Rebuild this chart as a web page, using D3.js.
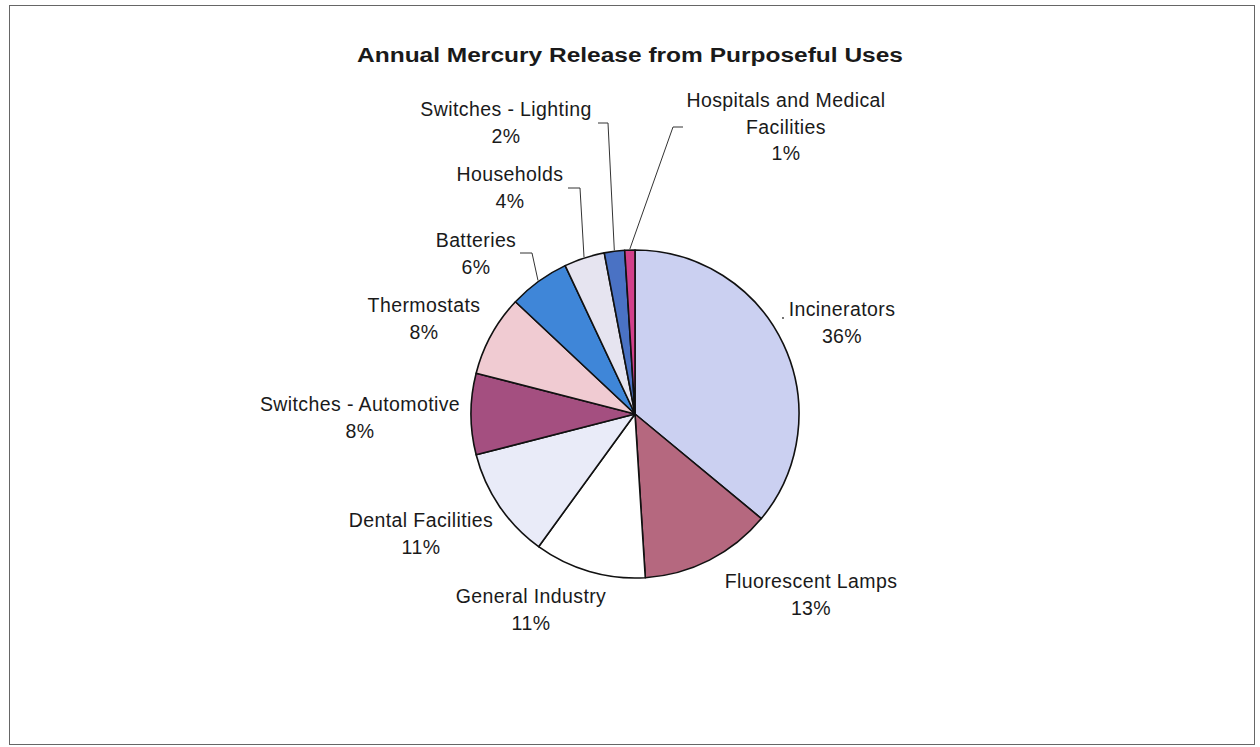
<!DOCTYPE html>
<html>
<head>
<meta charset="utf-8">
<script src="https://cdn.jsdelivr.net/npm/d3@7"></script>
<style>
  html, body { margin: 0; padding: 0; background: #fff; }
  svg { display: block; }
  text { font-family: "Liberation Sans", Arial, sans-serif; fill: #1a1a1a; }
</style>
</head>
<body>
<svg id="chart" width="1260" height="747"></svg>
<script>
// ---- data ----
const categories = ["Incinerators", "Fluorescent Lamps", "General Industry", "Dental Facilities",
  "Switches - Automotive", "Thermostats", "Batteries", "Households", "Switches - Lighting",
  "Hospitals and Medical Facilities"];
const values = [36, 13, 11, 11, 8, 8, 6, 4, 2, 1];
const labelLines = [["Incinerators"], ["Fluorescent Lamps"], ["General Industry"], ["Dental Facilities"],
  ["Switches - Automotive"], ["Thermostats"], ["Batteries"], ["Households"], ["Switches - Lighting"],
  ["Hospitals and Medical", "Facilities"]];
const colors = ["#cbd0f1", "#b5687f", "#ffffff", "#e9ebf8", "#a44f80", "#f0cbd2", "#3f86d8",
  "#e6e4f0", "#4a72c4", "#d2408a"];
const title = "Annual Mercury Release from Purposeful Uses";

// ---- layout (label anchor positions: centre x, first baseline y) ----
const labelPos = [[842, 316], [811, 588], [531, 603], [421, 527], [360, 411], [424, 312],
  [476, 247], [510, 181], [506, 116], [786, 107]];
// leader elbows for small slices; null = none
const leaders = [null, null, null, null, null, null,
  [[520, 253], [532, 253]], [[568, 188], [580, 188]], [[598, 123], [608, 123]], [[683, 127], [673, 127]]];

const svg = d3.select("#chart");

// frame
svg.append("rect").attr("x", 9.5).attr("y", 5.5).attr("width", 1245).attr("height", 739)
  .attr("fill", "none").attr("stroke", "#666").attr("stroke-width", 1);

svg.append("text").attr("x", 630).attr("y", 62).attr("text-anchor", "middle")
  .style("font-size", "20px").style("font-weight", "bold")
  .attr("textLength", 546).attr("lengthAdjust", "spacingAndGlyphs").text(title);

const cx = 635, cy = 414, R = 164;
const g = svg.append("g").attr("transform", `translate(${cx},${cy})`);

const pie = d3.pie().sort(null).value(d => d)(values);
const arc = d3.arc().innerRadius(0).outerRadius(R);

g.selectAll("path.slice").data(pie).join("path")
  .attr("class", "slice")
  .attr("d", arc)
  .attr("fill", (d, i) => colors[i])
  .attr("stroke", "#111")
  .attr("stroke-width", 1.6)
  .attr("stroke-linejoin", "round");

// leaders
pie.forEach((d, i) => {
  const L = leaders[i];
  if (!L) return;
  const a = (d.startAngle + d.endAngle) / 2;
  const px = cx + Math.sin(a) * (R + 1), py = cy - Math.cos(a) * (R + 1);
  svg.append("polyline")
    .attr("points", [L[0], L[1], [px, py]].map(p => p.join(",")).join(" "))
    .attr("fill", "none").attr("stroke", "#333").attr("stroke-width", 1);
});
// tiny leader dot for Incinerators
svg.append("circle").attr("cx", 783).attr("cy", 318).attr("r", 0.9).attr("fill", "#333");

// labels
pie.forEach((d, i) => {
  const [x, y] = labelPos[i];
  const lines = labelLines[i].concat([d3.format(".0f")(values[i] / d3.sum(values) * 100) + "%"]);
  const t = svg.append("text").attr("text-anchor", "middle")
    .style("font-size", "19.5px").style("letter-spacing", "0.4px");
  lines.forEach((s, k) => {
    t.append("tspan").attr("x", x).attr("y", y + k * 26.7).text(s);
  });
});
</script>
</body>
</html>
